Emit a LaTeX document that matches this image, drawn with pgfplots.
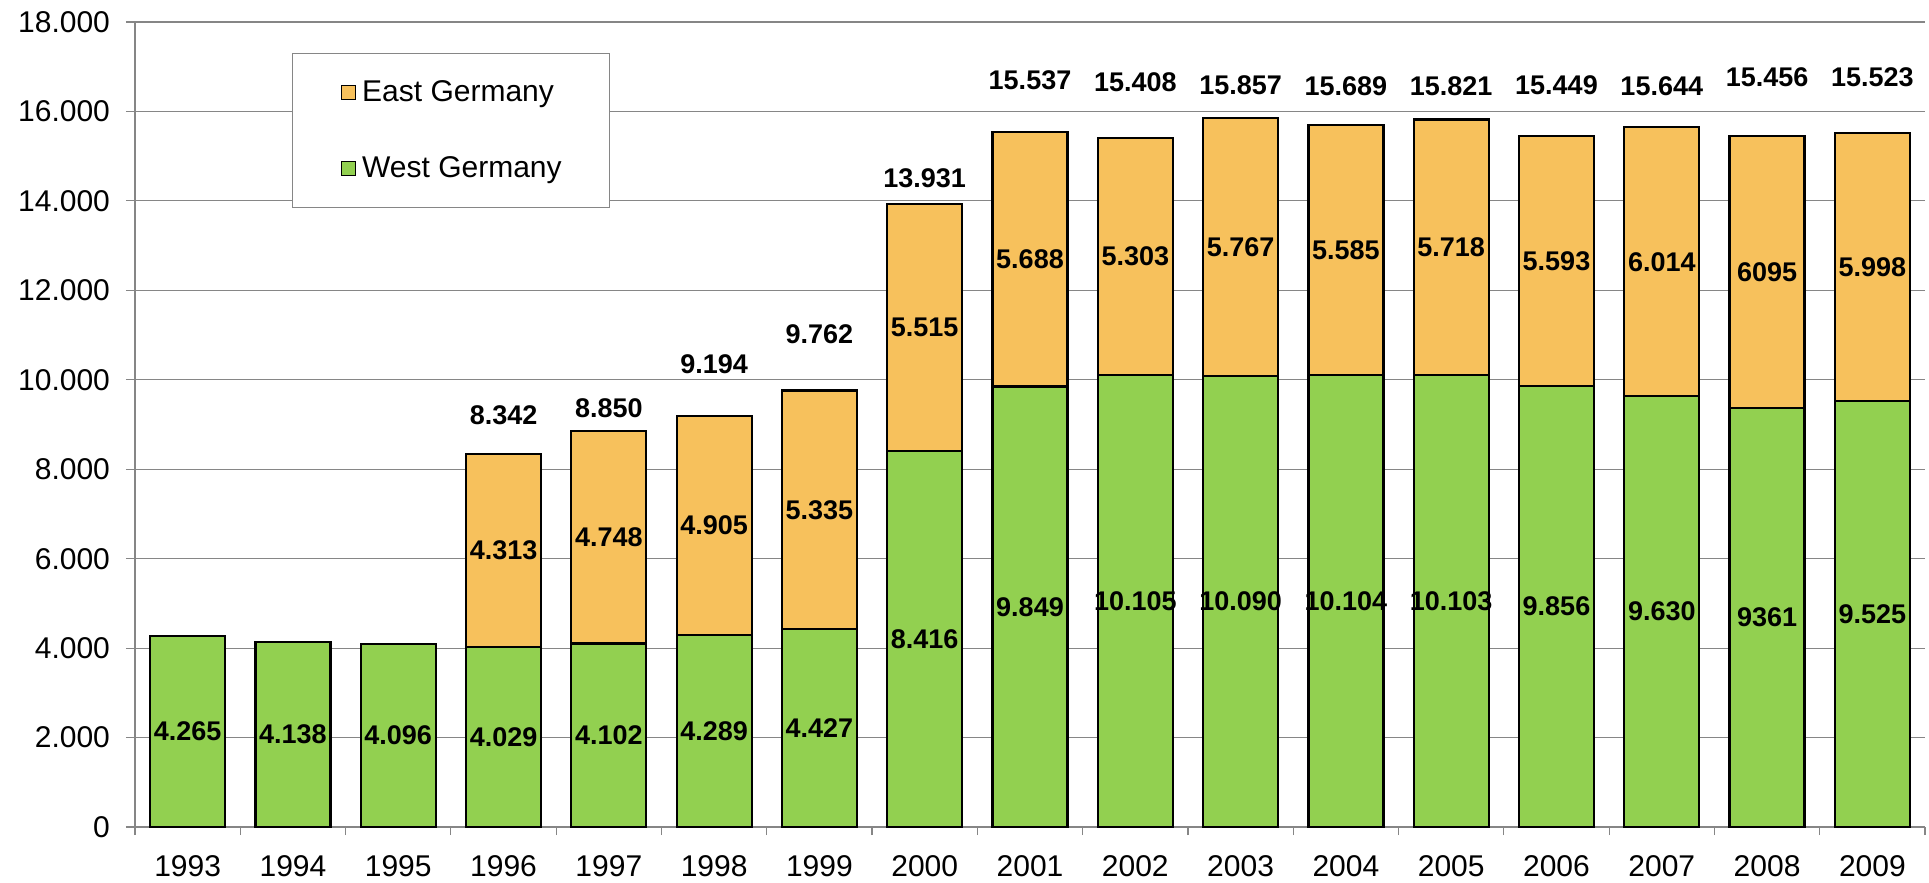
\documentclass[border=0pt]{standalone}
\usepackage{fontspec}
\setmainfont{Liberation Sans}
\usepackage{pgfplots}
\usepackage{pgfplotstable}
\pgfplotsset{compat=1.18}
\definecolor{eastc}{RGB}{247,193,92}
\definecolor{westc}{RGB}{146,208,80}
\definecolor{gridc}{RGB}{134,134,134}

\pgfplotstableread{
x year west east total
0 1993 4265 0 4265
1 1994 4138 0 4138
2 1995 4096 0 4096
3 1996 4029 4313 8342
4 1997 4102 4748 8850
5 1998 4289 4905 9194
6 1999 4427 5335 9762
7 2000 8416 5515 13931
8 2001 9849 5688 15537
9 2002 10105 5303 15408
10 2003 10090 5767 15857
11 2004 10104 5585 15689
12 2005 10103 5718 15821
13 2006 9856 5593 15449
14 2007 9630 6014 15644
15 2008 9361 6095 15456
16 2009 9525 5998 15523
}\data

\pgfplotstableread{
x y lab
0 2132.5 4.265
1 2069 4.138
2 2048 4.096
3 2014.5 4.029
4 2051 4.102
5 2144.5 4.289
6 2213.5 4.427
7 4208 8.416
8 4924.5 9.849
9 5052.5 10.105
10 5045 10.090
11 5052 10.104
12 5051.5 10.103
13 4928 9.856
14 4815 9.630
15 4680.5 9361
16 4762.5 9.525
3 6185.5 4.313
4 6476 4.748
5 6741.5 4.905
6 7094.5 5.335
7 11173.5 5.515
8 12693 5.688
9 12756.5 5.303
10 12973.5 5.767
11 12896.5 5.585
12 12962 5.718
13 12652.5 5.593
14 12637 6.014
15 12408.5 6095
16 12524 5.998
3 9212 8.342
4 9369 8.850
5 10353 9.194
6 11010 9.762
7 14505 13.931
8 16687 15.537
9 16643 15.408
10 16591 15.857
11 16570 15.689
12 16570 15.821
13 16580 15.449
14 16570 15.644
15 16770 15.456
16 16770 15.523
}\labels

\begin{document}
\begin{tikzpicture}
\begin{axis}[
  name=ax,
  width=895pt, height=402.5pt, scale only axis,
  xmin=-0.5, xmax=16.5, ymin=0, ymax=18000,
  axis x line*=bottom, axis y line*=left,
  axis line style={draw=gridc, line width=0.6pt},
  xtick={0,...,16},
  xticklabels={1993,1994,1995,1996,1997,1998,1999,2000,2001,2002,2003,2004,2005,2006,2007,2008,2009},
  minor xtick={-0.5,0.5,...,16.5},
  major x tick style={draw=none},
  minor x tick style={draw=gridc, line width=0.6pt},
  minor tick length=4pt,
  major tick length=4.5pt,
  tick align=outside,
  ytick={0,2000,...,18000},
  y tick style={draw=gridc, line width=0.6pt},
  ymajorgrids, grid style={draw=gridc, line width=0.6pt},
  scaled y ticks=false,
  /pgf/number format/1000 sep={.},
  /pgf/number format/assume math mode=true,
  tick label style={font=\fontsize{15}{18}\selectfont, text=black},
  yticklabel style={xshift=-4.5pt},
  xticklabel style={yshift=-6pt},
  legend cell align=left,
  legend style={at={(0.0877,0.9615)}, anchor=north west, draw=gridc, line width=0.6pt,
    fill=white, inner xsep=24pt, inner ysep=13.5pt, row sep=26pt,
    nodes={inner sep=0pt},
    /tikz/every odd column/.append style={column sep=3pt},
    font=\fontsize{15}{18}\selectfont},
]
\addplot[ybar, bar width=37.5pt, bar shift=0pt, fill=eastc, draw=black, line width=1.1pt,
  legend image code/.code={\draw[fill=eastc, draw=black, line width=0.8pt] (0pt,-3.5pt) rectangle (7pt,3.5pt);}]
  table[x=x, y=total]{\data};
\addlegendentry{East Germany}
\addplot[ybar, bar width=37.5pt, bar shift=0pt, fill=westc, draw=black, line width=1.1pt,
  legend image code/.code={\draw[fill=westc, draw=black, line width=0.8pt] (0pt,-3.5pt) rectangle (7pt,3.5pt);}]
  table[x=x, y=west]{\data};
\addlegendentry{West Germany}
\addplot[draw=none, forget plot, nodes near coords, point meta=explicit symbolic,
  nodes near coords style={font=\bfseries\fontsize{13.5}{16}\selectfont, anchor=center, text=black, inner sep=0pt}]
  table[x=x, y=y, meta=lab]{\labels};
\end{axis}
\path ([shift={(-67.5pt,-27pt)}]ax.south west) rectangle ([shift={(2pt,11pt)}]ax.north east);
\end{tikzpicture}
\end{document}
